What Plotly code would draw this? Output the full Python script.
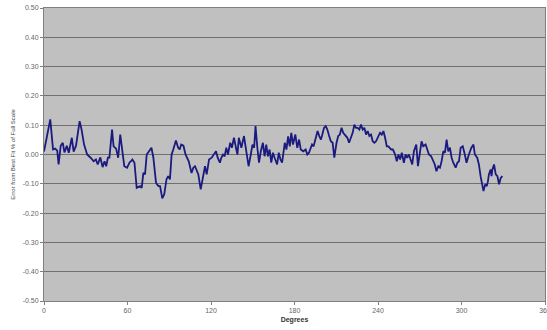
import plotly.graph_objects as go

degrees = [0, 2, 4.5, 6.5, 8, 9.5, 10.5, 12, 13.5, 14.7, 16.4, 17.8, 20, 21.3, 23, 25.6, 27, 28.8, 31,
           33.5, 35.7, 37.3, 38.6, 40.5, 42.1, 43.5, 44.7, 45.9, 47, 48.9, 50, 51.8, 53.3, 54.8, 56,
           57.7, 59.7, 61.4, 62.5, 63.5, 65, 66.6, 69, 70.2, 71.4, 72.6, 73.8, 75.7, 77.2, 78.6,
           80.5, 82.2, 83.4, 85, 86.4, 88, 89.2, 90.5, 91.7, 92.9, 94.8, 96.4, 97.5, 98.6, 100.2,
           101.7, 104, 106, 107.3, 108.5, 109.7, 110.9, 112.6, 114.5, 115.7, 116.9, 118.6, 120.5,
           122.2, 123.6, 124.8, 126.4, 127.4, 128.6, 129.8, 131, 132.2, 133.8, 135, 136.5, 138.2,
           139, 140, 141.8, 143.7, 145.4, 147, 148.6, 149.8, 151, 152, 153.3, 154.5, 155.8, 157.3,
           158.5, 159.7, 160.9, 162.1, 163.3, 164.5, 165.7, 167.5, 168.7, 169.9, 171.1, 172.3, 173,
           174.2, 175.4, 176.6, 177.7, 178.9, 180.6, 182, 183.3, 184.5, 186.3, 188, 189.2, 190.4,
           191.4, 192.6, 193.7, 195.4, 196.6, 197.8, 199, 200, 201.2, 202.4, 203.6, 204.9, 206.1,
           207.4, 208.6, 210.2, 211.4, 212.6, 213.8, 215, 216.2, 218, 219.2, 220.4, 221.8, 223,
           224.2, 225.4, 226.6, 227.8, 229, 230.2, 231.4, 232.6, 233.8, 235, 236.2, 237.4, 238.6,
           240.3, 241.5, 242.7, 243.9, 245.1, 246.3, 247.5, 249.5, 250.7, 252.3, 253.5, 254.7,
           255.9, 257.1, 258.6, 259.8, 261, 262.2, 263.4, 264.6, 265.8, 267.5, 268.7, 270.1, 271.3,
           272.5, 274.2, 275.4, 276.6, 278.2, 279.6, 280.8, 282, 283.3, 284.5, 285.7, 286.9, 288.1,
           289.3, 290.5, 291.7, 292.9, 294.1, 295.8, 297, 298.2, 299.4, 300.9, 302.4, 303.6, 305.3,
           307.1, 308.6, 309.6, 311.3, 312.5, 313.7, 315.8, 317, 318.2, 319, 319.7, 320.9, 321.6,
           322.2, 323.4, 324.6, 325.8, 327, 328.2, 329.4]

error_pct = [0.01, 0.06, 0.12, 0.017, 0.02, 0.013, -0.034, 0.03, 0.04, 0.007, 0.03, 0.006, 0.057,
             0.01, 0.03, 0.114, 0.085, 0.034, 0.0, -0.011, -0.023, -0.017, -0.034, -0.01, -0.043,
             -0.023, -0.04, -0.011, -0.011, 0.085, 0.028, 0.02, -0.011, 0.068, 0.02, -0.04, -0.045,
             -0.028, -0.023, -0.017, -0.028, -0.114, -0.108, -0.114, -0.063, -0.068, 0.0, 0.011,
             0.023, -0.011, -0.097, -0.108, -0.108, -0.15, -0.136, -0.085, -0.074, -0.085, 0.0,
             0.017, 0.048, 0.023, 0.017, 0.034, 0.03, 0.0, -0.023, -0.063, -0.045, -0.04, -0.057,
             -0.068, -0.119, -0.068, -0.04, -0.068, -0.017, -0.011, 0.0, 0.011, -0.011, -0.028,
             -0.011, 0.0, -0.006, 0.023, 0.0, 0.04, 0.023, 0.057, 0.017, 0.0, 0.057, 0.023, 0.063,
             0.0, -0.04, 0.0, 0.034, 0.023, 0.097, 0.023, -0.028, 0.011, 0.04, -0.006, 0.034,
             -0.006, 0.017, -0.028, 0.006, -0.011, -0.034, 0.006, -0.017, -0.028, 0.006, 0.04,
             0.017, 0.062, 0.028, 0.074, 0.034, 0.068, 0.023, 0.051, 0.017, 0.011, 0.017, 0.0,
             0.006, 0.023, 0.034, 0.028, 0.057, 0.08, 0.063, 0.051, 0.068, 0.091, 0.097, 0.085,
             0.063, 0.045, 0.04, -0.011, 0.04, 0.063, 0.068, 0.091, 0.074, 0.068, 0.057, 0.04,
             0.057, 0.074, 0.102, 0.091, 0.091, 0.085, 0.102, 0.085, 0.091, 0.068, 0.08, 0.063,
             0.068, 0.045, 0.04, 0.045, 0.063, 0.074, 0.068, 0.08, 0.057, 0.028, 0.028, 0.017,
             0.017, 0.0, -0.023, 0.0, -0.017, 0.006, -0.028, 0.0, -0.011, 0.0, -0.017, -0.034,
             0.011, 0.034, -0.04, 0.011, 0.045, 0.028, 0.034, 0.017, 0.0, -0.006, -0.023, -0.034,
             -0.057, -0.04, -0.045, -0.023, 0.011, 0.006, 0.051, 0.011, 0.023, -0.011, -0.028,
             -0.045, -0.028, -0.023, 0.023, 0.028, 0.0, -0.028, 0.0, 0.023, 0.034, 0.0, -0.011,
             -0.034, -0.074, -0.125, -0.102, -0.108, -0.091, -0.068, -0.051, -0.074, -0.051,
             -0.034, -0.068, -0.074, -0.102, -0.08, -0.074, -0.08, -0.04, -0.017, -0.017]

y_ticks = [0.5, 0.4, 0.3, 0.2, 0.1, 0.0, -0.1, -0.2, -0.3, -0.4, -0.5]
y_labels = ["0.50", "0.40", "0.30", "0.20", "0.10", "0.00", "-0.10", "-0.20", "-0.30", "-0.40", "-0.50"]
x_ticks = [0, 60, 120, 180, 240, 300, 360]
x_labels = ["0", "60", "120", "180", "240", "300", "360"]

fig = go.Figure()
fig.add_trace(go.Scatter(x=degrees, y=error_pct, mode="lines",
                         line=dict(color="#1a1a80", width=1.8), showlegend=False))

font_family = "Liberation Sans, Arial, sans-serif"
fig.update_layout(
    width=547, height=330,
    margin=dict(l=44, r=2, t=8, b=29),
    paper_bgcolor="white",
    plot_bgcolor="#c0c0c0",
    font=dict(family=font_family, size=7, color="#555555"),
    xaxis=dict(range=[0, 360], tickvals=x_ticks, ticktext=x_labels, automargin=False,
               ticklabeloverflow="allow",
               showgrid=False, zeroline=False,
               showline=True, linecolor="#808080", linewidth=1, mirror=True,
               ticks="outside", ticklen=3, tickcolor="#808080",
               tickfont=dict(size=7, color="#666666"),
               title=dict(text="<b>Degrees</b>", font=dict(size=7, color="#333333"), standoff=3)),
    yaxis=dict(range=[-0.5, 0.5], tickvals=y_ticks, ticktext=y_labels, automargin=False,
               showgrid=True, gridcolor="#707070", gridwidth=1, zeroline=False,
               showline=True, linecolor="#808080", linewidth=1, mirror=True,
               ticks="outside", ticklen=3, tickcolor="#808080",
               tickfont=dict(size=7, color="#666666"),
               title=dict(text="Error from Best Fit % of Full Scale",
                          font=dict(size=6, color="#444444"), standoff=6)),
)

fig.write_html("out.html", config={"displayModeBar": False},
               post_script="document.body.style.margin='0px';")
